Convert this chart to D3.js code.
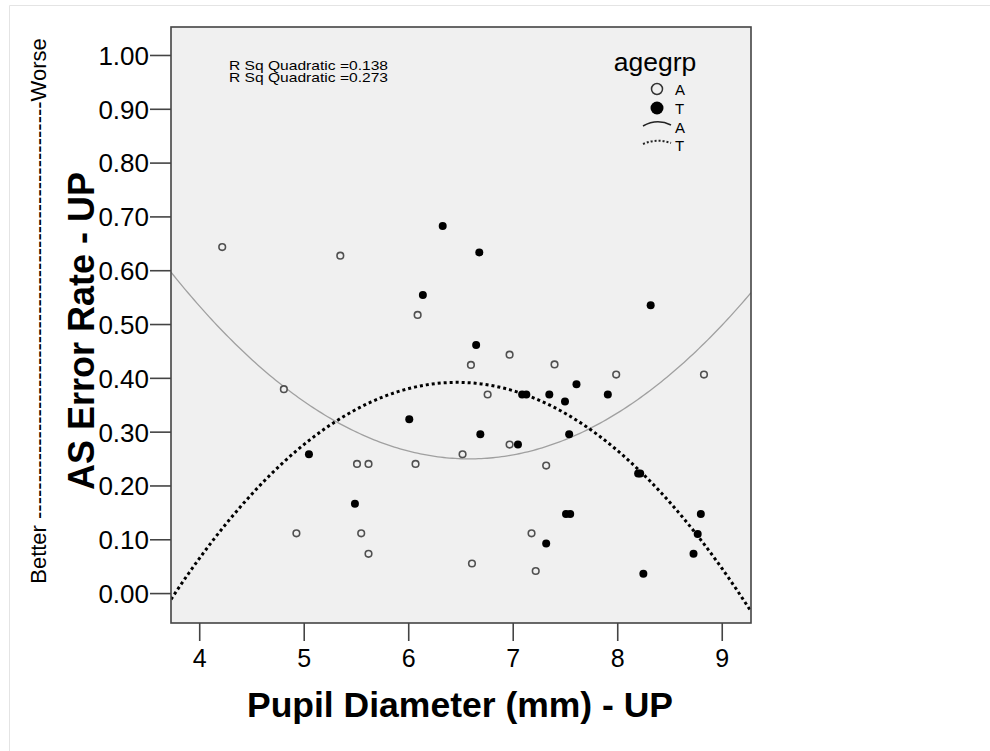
<!DOCTYPE html>
<html>
<head>
<meta charset="utf-8">
<script src="https://cdn.jsdelivr.net/npm/d3@7"></script>
<style>
  body { margin: 0; background: #fff; }
  text { font-family: "Liberation Sans", Arial, sans-serif; }
</style>
</head>
<body>
<svg id="chart" width="990" height="751"></svg>
<script>
// agegrp A (open circles)
var aX = [4.22, 5.35, 6.09, 4.81, 6.60, 6.97, 7.40, 7.99, 8.83, 6.76, 6.97, 6.52, 7.32,
          5.51, 5.62, 6.07, 4.93, 5.55, 5.62, 7.18, 6.61, 7.22];
var aY = [0.643, 0.627, 0.517, 0.379, 0.424, 0.443, 0.425, 0.406, 0.406, 0.369, 0.276, 0.258, 0.237,
          0.240, 0.240, 0.240, 0.111, 0.111, 0.073, 0.111, 0.055, 0.041];
// agegrp T (filled circles)
var tX = [6.33, 6.68, 6.14, 8.32, 6.65, 7.61, 7.09, 7.13, 7.35, 7.91, 7.50, 6.01, 6.69, 7.54,
          7.05, 5.05, 8.20, 8.22, 5.49, 7.51, 7.55, 8.80, 8.77, 7.32, 8.73, 8.25];
var tY = [0.682, 0.633, 0.554, 0.535, 0.461, 0.388, 0.369, 0.369, 0.369, 0.369, 0.356, 0.323, 0.295, 0.295,
          0.276, 0.258, 0.222, 0.222, 0.166, 0.147, 0.147, 0.147, 0.110, 0.092, 0.073, 0.036];

var xTicks = [4, 5, 6, 7, 8, 9];
var yTicks = [0, 0.1, 0.2, 0.3, 0.4, 0.5, 0.6, 0.7, 0.8, 0.9, 1.0];
var rsqLabels = ["R Sq Quadratic =0.138", "R Sq Quadratic =0.273"];
var groups = ["A", "T"];

var svg = d3.select("#chart");
var pLeft = 171, pRight = 751, pTop = 27, pBottom = 623;

var x = d3.scaleLinear().domain([3.73, 9.28]).range([pLeft, pRight]);
var y = d3.scaleLinear().domain([-0.0556, 1.052]).range([pBottom, pTop]);

// outer frame
svg.append("path")
  .attr("d", "M9.5,751 V5.5 H990")
  .attr("fill", "none")
  .attr("stroke", "#e4e4e4");

svg.append("rect")
  .attr("x", pLeft).attr("y", pTop)
  .attr("width", pRight - pLeft).attr("height", pBottom - pTop)
  .attr("fill", "#f0f0f0");

// quadratic least squares fit
var quadFit = function(xs, ys) {
  var n = xs.length, s = [0, 0, 0, 0, 0], t = [0, 0, 0];
  for (var i = 0; i < n; i++) {
    var p = 1;
    for (var k = 0; k < 5; k++) { s[k] += p; if (k < 3) t[k] += p * ys[i]; p *= xs[i]; }
  }
  var m = [[s[0], s[1], s[2], t[0]], [s[1], s[2], s[3], t[1]], [s[2], s[3], s[4], t[2]]];
  for (var c = 0; c < 3; c++) {
    for (var r = c + 1; r < 3; r++) {
      var f = m[r][c] / m[c][c];
      for (var j = c; j < 4; j++) m[r][j] -= f * m[c][j];
    }
  }
  var b = [0, 0, 0];
  for (var r2 = 2; r2 >= 0; r2--) {
    var v = m[r2][3];
    for (var j2 = r2 + 1; j2 < 3; j2++) v -= m[r2][j2] * b[j2];
    b[r2] = v / m[r2][r2];
  }
  return function(xv) { return b[0] + b[1] * xv + b[2] * xv * xv; };
};

var fitA = quadFit(aX, aY), fitT = quadFit(tX, tY);
var xs = d3.range(0, 201).map(function(i) { return 3.73 + (9.28 - 3.73) * i / 200; });
var line = function(fn) {
  return d3.line().x(function(d) { return x(d); }).y(function(d) { return y(fn(d)); })(xs);
};

var plot = svg.append("g");
plot.append("clipPath").attr("id", "clip")
  .append("rect").attr("x", pLeft).attr("y", pTop).attr("width", pRight - pLeft).attr("height", pBottom - pTop);

plot.append("path").attr("d", line(fitA)).attr("clip-path", "url(#clip)")
  .attr("fill", "none").attr("stroke", "#a0a0a0").attr("stroke-width", 1.3);
plot.append("path").attr("d", line(fitT)).attr("clip-path", "url(#clip)")
  .attr("fill", "none").attr("stroke", "#000").attr("stroke-width", 3).attr("stroke-dasharray", "3,3");

plot.selectAll(".ptA").data(aX).enter().append("circle")
  .attr("cx", function(d) { return x(d); })
  .attr("cy", function(d, i) { return y(aY[i]); })
  .attr("r", 3.3).attr("fill", "#f0f0f0").attr("stroke", "#505050").attr("stroke-width", 1.6);

plot.selectAll(".ptT").data(tX).enter().append("circle")
  .attr("cx", function(d) { return x(d); })
  .attr("cy", function(d, i) { return y(tY[i]); })
  .attr("r", 4).attr("fill", "#000");

// border
svg.append("rect")
  .attr("x", pLeft).attr("y", pTop)
  .attr("width", pRight - pLeft).attr("height", pBottom - pTop)
  .attr("fill", "none").attr("stroke", "#444").attr("stroke-width", 1.6);

// axes
var yAxis = svg.append("g").attr("transform", "translate(" + pLeft + ",0)")
  .call(d3.axisLeft(y).tickValues(yTicks).tickSize(21).tickPadding(1).tickFormat(d3.format(".2f")));
var xAxis = svg.append("g").attr("transform", "translate(0," + pBottom + ")")
  .call(d3.axisBottom(x).tickValues(xTicks).tickSize(18).tickPadding(8).tickFormat(d3.format("d")));
[xAxis, yAxis].forEach(function(a) {
  a.select(".domain").remove();
  a.selectAll(".tick line").attr("stroke", "#444").attr("stroke-width", 1.6);
  a.selectAll(".tick text").attr("fill", "#000").style("font-family", "Liberation Sans, Arial, sans-serif");
});
yAxis.selectAll(".tick text").style("font-size", "26px").attr("dy", "0.36em");
xAxis.selectAll(".tick text").style("font-size", "25px");

// titles
svg.append("text").attr("x", 460).attr("y", 717).attr("text-anchor", "middle")
  .style("font-size", "35.5px").style("font-weight", "bold").text("Pupil Diameter (mm) - UP");
svg.append("text").attr("transform", "translate(94,331) rotate(-90)").attr("text-anchor", "middle")
  .style("font-size", "36px").style("font-weight", "bold").text("AS Error Rate - UP");
svg.append("text").attr("transform", "translate(46,311) rotate(-90)").attr("text-anchor", "middle")
  .style("font-size", "22px").text("Better " + d3.range(57).map(function() { return "-"; }).join("") + "Worse");

// R sq labels
svg.selectAll(".rsq").data(rsqLabels).enter().append("text")
  .attr("transform", function(d, i) { return "translate(229," + (70 + i * 12) + ") scale(1.3,1)"; })
  .style("font-size", "12px").text(function(d) { return d; });

// legend
svg.append("text").attr("x", 655).attr("y", 71).attr("text-anchor", "middle")
  .style("font-size", "26.5px").text("agegrp");
var lg = svg.append("g");
lg.append("circle").attr("cx", 657).attr("cy", 89).attr("r", 5.5)
  .attr("fill", "#f0f0f0").attr("stroke", "#333").attr("stroke-width", 1.5);
lg.append("circle").attr("cx", 657).attr("cy", 108).attr("r", 6.5).attr("fill", "#000");
lg.append("path").attr("d", "M643,126 Q657,118 671,125")
  .attr("fill", "none").attr("stroke", "#222").attr("stroke-width", 1.5);
lg.append("path").attr("d", "M643,144 Q657,138 671,143")
  .attr("fill", "none").attr("stroke", "#222").attr("stroke-width", 2).attr("stroke-dasharray", "2,2");
lg.selectAll(".lt").data(groups.concat(groups)).enter().append("text")
  .attr("x", 675).attr("y", function(d, i) { return [95, 114, 133, 151][i]; })
  .style("font-size", "15px").text(function(d) { return d; });
</script>
</body>
</html>
